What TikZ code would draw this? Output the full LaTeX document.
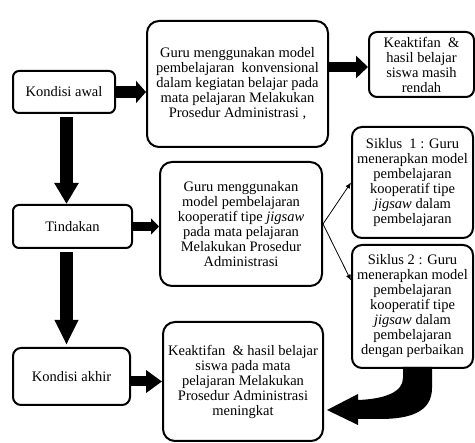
\documentclass[tikz,border=0pt]{standalone}
\usepackage{fontspec}
\setmainfont{Liberation Serif}
\usetikzlibrary{arrows.meta}

\begin{document}
\begin{tikzpicture}[x=1pt,y=-1pt]
\tikzstyle{kotak}=[rectangle,draw,line width=2pt,rounded corners=#1,align=center,inner sep=0pt,font=\fontsize{14.5}{15}\selectfont]
\tikzstyle{panah}=[line width=12pt,-{Triangle[length=#1,width=22pt]}]
\tikzstyle{tipis}=[line width=0.8pt,-{Latex[length=6pt,width=5pt]}]
\useasboundingbox (0,0) rectangle (475,443);

\node[kotak=6pt,minimum width=102pt,minimum height=42pt](awal) at (64,92) {Kondisi awal};
\node[kotak=12pt,minimum width=181pt,minimum height=126pt](konv) at (237.5,84) {Guru menggunakan model\\pembelajaran~ konvensional\\dalam kegiatan belajar pada\\mata pelajaran Melakukan\\Prosedur Administrasi ,};
\node[kotak=8pt,minimum width=105pt,minimum height=65pt](rendah) at (421.5,64.5) {Keaktifan~ \&\\hasil belajar\\siswa masih\\rendah};
\node[kotak=6pt,minimum width=119pt,minimum height=43pt](tindakan) at (72.5,226.5) {Tindakan};
\node[kotak=12pt,minimum width=162pt,minimum height=124pt](jigsaw) at (241,224) {Guru menggunakan\\model pembelajaran\\kooperatif tipe \textit{jigsaw}\\pada mata pelajaran\\Melakukan Prosedur\\Administrasi};
\node[kotak=10pt,minimum width=121pt,minimum height=111pt](siklus1) at (412.5,182.5) {Siklus~ 1 : Guru\\menerapkan model\\pembelajaran\\kooperatif tipe\\\textit{jigsaw} dalam\\pembelajaran};
\node[kotak=10pt,minimum width=121pt,minimum height=123pt](siklus2) at (412.5,306.5) {Siklus 2 : Guru\\menerapkan model\\pembelajaran\\kooperatif tipe\\\textit{jigsaw} dalam\\pembelajaran\\dengan perbaikan};
\node[kotak=8pt,minimum width=117pt,minimum height=57pt](akhir) at (71.5,376.5) {Kondisi akhir};
\node[kotak=12pt,minimum width=160pt,minimum height=119pt](meningkat) at (243,381.5) {Keaktifan~ \& hasil belajar\\siswa pada mata\\pelajaran Melakukan\\Prosedur Administrasi\\meningkat};

\draw[panah=10pt] (awal.east) -- (awal.east -| konv.west);
\draw[panah=12pt,line width=10pt] ([yshift=17pt]konv.east) -- ([yshift=-2.5pt]rendah.west);
\draw[panah=21pt,line width=13pt,-{Triangle[length=21pt,width=23pt]},shorten <=3pt] ([xshift=2.5pt]awal.south) -- ([xshift=-6pt]tindakan.north);
\draw[line width=9pt,-{Triangle[length=8pt,width=16pt]}] (tindakan.east) -- (tindakan.east -| jigsaw.west);
\draw[line width=13pt,-{Triangle[length=25pt,width=22pt]},shorten <=3pt,shorten >=2pt] ([xshift=-6pt]tindakan.south) -- ([xshift=-5pt]akhir.north);
\draw[panah=16pt,line width=10pt] (meningkat.west -| akhir.east) -- (meningkat.west);
\draw[tipis] (jigsaw.east) -- (siklus1.west);
\draw[tipis] (jigsaw.east) -- ([yshift=26pt]siklus2.west);
\fill (403,367) -- (432,367) -- (432,388) .. controls (432,412) and (410,419) .. (380,419) -- (358,419) -- (358,425) -- (327,410) -- (358,394) -- (358,400) .. controls (385,399) and (403,392) .. (403,378) -- cycle;
\end{tikzpicture}
\end{document}
